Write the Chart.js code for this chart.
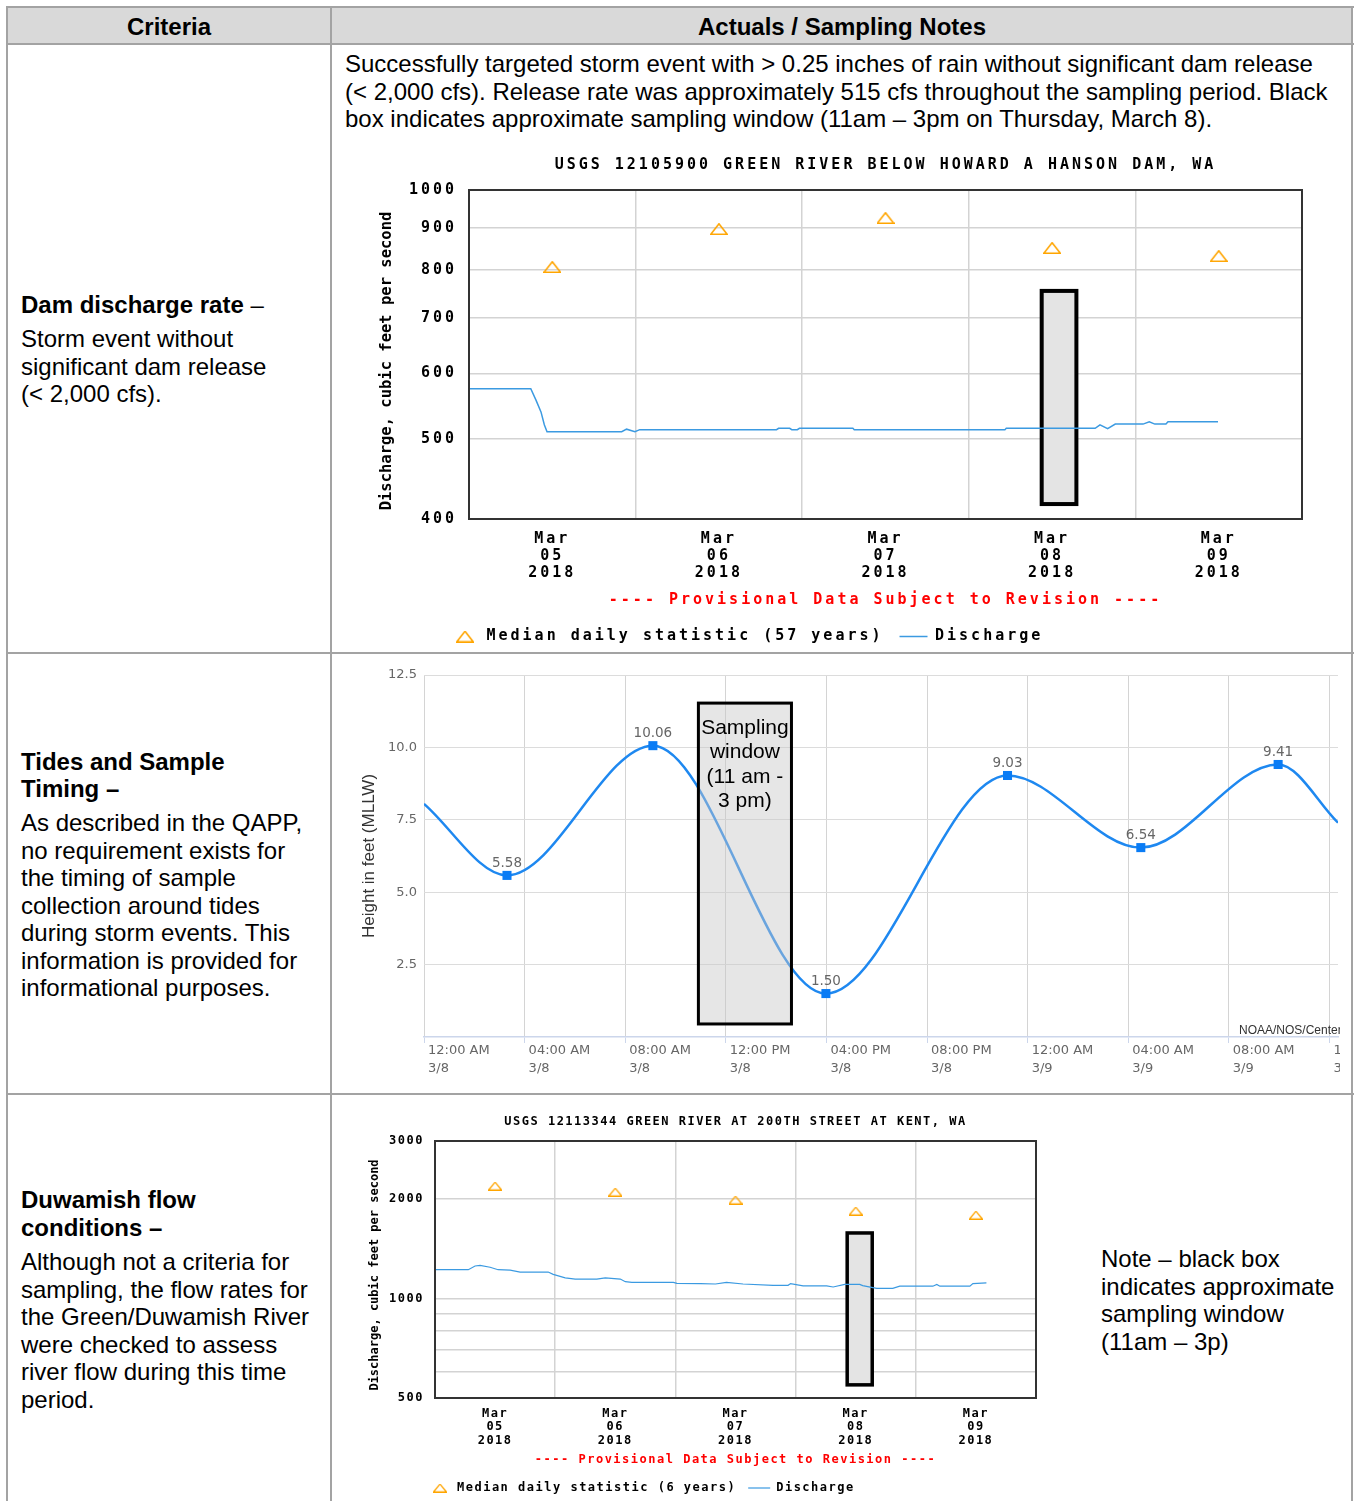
<!DOCTYPE html>
<html>
<head>
<meta charset="utf-8">
<title>Storm event sampling criteria</title>
<script src="https://cdn.jsdelivr.net/npm/chart.js@4.4.1/dist/chart.umd.min.js"></script>
<style>
  html, body { margin: 0; padding: 0; background: #fff; }
  body { position: relative; width: 1355px; height: 1501px; overflow: hidden;
         font-family: "Liberation Sans", Arial, sans-serif; color: #000; }
  .rule { position: absolute; background: #a3a3a3; }
  .head { position: absolute; background: #d9d9d9; left: 7px; top: 7px; width: 1346px; height: 37px; }
  .hd { position: absolute; top: 13px; font-size: 24px; line-height: 28px; font-weight: bold; text-align: center; }
  .txt { position: absolute; font-size: 24px; line-height: 27.5px; white-space: nowrap; }
  canvas { position: absolute; }
</style>
</head>
<body>
<div class="head"></div>
<div class="rule" style="left:6px;top:6px;width:1348px;height:2px"></div>
<div class="rule" style="left:6px;top:43px;width:1348px;height:2px"></div>
<div class="rule" style="left:6px;top:652px;width:1348px;height:2px"></div>
<div class="rule" style="left:6px;top:1093px;width:1348px;height:2px"></div>
<div class="rule" style="left:6px;top:6px;width:2px;height:1495px"></div>
<div class="rule" style="left:330px;top:6px;width:2px;height:1495px"></div>
<div class="rule" style="left:1351px;top:6px;width:2px;height:1495px"></div>

<div class="hd" style="left:7px;width:324px">Criteria</div>
<div class="hd" style="left:331px;width:1022px">Actuals / Sampling Notes</div>

<div class="txt" style="left:21px;top:291px"><b>Dam discharge rate</b> –</div>
<div class="txt" style="left:21px;top:325px">Storm event without<br>significant dam release<br>(&lt; 2,000 cfs).</div>

<div class="txt" style="left:21px;top:748px;line-height:27px"><b>Tides and Sample<br>Timing –</b></div>
<div class="txt" style="left:21px;top:809px">As described in the QAPP,<br>no requirement exists for<br>the timing of sample<br>collection around tides<br>during storm events. This<br>information is provided for<br>informational purposes.</div>

<div class="txt" style="left:21px;top:1186px;line-height:28px"><b>Duwamish flow<br>conditions –</b></div>
<div class="txt" style="left:21px;top:1248px">Although not a criteria for<br>sampling, the flow rates for<br>the Green/Duwamish River<br>were checked to assess<br>river flow during this time<br>period.</div>

<div class="txt" style="left:345px;top:50px">Successfully targeted storm event with &gt; 0.25 inches of rain without significant dam release<br>(&lt; 2,000 cfs). Release rate was approximately 515 cfs throughout the sampling period. Black<br>box indicates approximate sampling window (11am – 3pm on Thursday, March 8).</div>

<div class="txt" style="left:1101px;top:1245px">Note – black box<br>indicates approximate<br>sampling window<br>(11am – 3p)</div>

<canvas id="dam" width="1010" height="510" style="left:340px;top:140px"></canvas>
<canvas id="tide" width="1000" height="432" style="left:340px;top:658px"></canvas>
<canvas id="kent" width="750" height="401" style="left:340px;top:1100px"></canvas>

<script>
// ---------- USGS 12105900 Green River below Howard A. Hanson Dam ----------
// x values are hours after Mar 05 2018 00:00
const damDays = ['05', '06', '07', '08', '09'];
const damDayNoon = [12, 36, 60, 84, 108];
const damMedian = [807, 897, 925, 851, 832];
const damHours = [0, 8.9, 9.65, 10.37, 10.85, 11.24, 22.0, 22.7, 23.9, 24.6,
                  44.3, 44.6, 46.2, 46.5, 47.3, 47.6, 55.3, 55.5, 77.2, 77.4,
                  90.2, 90.9, 92.0, 93.1, 97.1, 98.0, 98.8, 100.4, 100.7, 107.9];
const damFlow = [575, 575, 557, 539, 520, 510, 510, 513.7, 510, 513,
                 513, 515, 515, 513, 513, 515, 515, 513, 513, 515,
                 515, 520, 514.5, 521, 521, 524.5, 521, 521, 524.5, 524.5];
const damYTicks = [400, 500, 600, 700, 800, 900, 1000];
const damWindowHours = [82.5, 87.5];
const damWindowFlow = [417, 755];

// ---------- Tide predictions, hours after Mar 08 2018 00:00 ----------
const tideHours = [0, 3.3, 9.1, 15.98, 23.2, 28.5, 33.96, 36.34];
const tideFeet = [8.05, 5.58, 10.06, 1.50, 9.03, 6.54, 9.41, 7.40];
const tideTickHours = [0, 4, 8, 12, 16, 20, 24, 28, 32, 36];
const tideTickTimes = ['12:00 AM', '04:00 AM', '08:00 AM', '12:00 PM', '04:00 PM',
                       '08:00 PM', '12:00 AM', '04:00 AM', '08:00 AM', '12:00 PM'];
const tideTickDates = ['3/8', '3/8', '3/8', '3/8', '3/8', '3/8', '3/9', '3/9', '3/9', '3/9'];
const tideYTicks = [0, 2.5, 5, 7.5, 10, 12.5];
const tideWindowHours = [10.91, 14.61];
const tideWindowFeet = [0.45, 11.53];
const tideWindowText = ['Sampling', 'window', '(11 am -', '3 pm)'];

// ---------- USGS 12113344 Green River at 200th Street at Kent ----------
const kentDays = ['05', '06', '07', '08', '09'];
const kentDayNoon = [12, 36, 60, 84, 108];
const kentMedian = [2192, 2101, 1988, 1841, 1790];
const kentHours = [0, 6.65, 8, 9, 11, 12.6, 15, 17, 22.6, 23.6,
                   26, 28, 32.3, 34, 37, 38, 39.3, 47.6, 48.3, 53,
                   56, 58.2, 61.5, 67.5, 70.5, 71, 73.5, 78.2, 79.5, 81.8,
                   84.8, 85.4, 86.4, 88.2, 91.4, 92.8, 99.4, 100.2, 100.8, 106.8,
                   107.4, 110.1];
const kentFlow = [1223, 1223, 1255, 1261, 1244, 1223, 1220, 1203, 1203, 1184,
                  1156, 1146, 1146, 1156, 1146, 1125, 1120, 1120, 1112, 1110,
                  1107, 1120, 1107, 1097, 1097, 1110, 1092, 1092, 1084, 1104,
                  1104, 1095, 1087, 1074, 1074, 1090, 1090, 1104, 1090, 1090,
                  1110, 1115];
const kentYTicks = [500, 600, 700, 800, 900, 1000, 2000, 3000];
const kentYLabels = [500, 1000, 2000, 3000];
const kentWindowHours = [82.3, 87.3];
const kentWindowFlow = [548, 1580];

const MONO = "'DejaVu Sans Mono', 'Liberation Mono', monospace";
const SANS = "'Liberation Sans', Arial, sans-serif";
const GRID = '#d3d3d3';
const FLOW_BLUE = '#3b9ae1';
const MEDIAN_ORANGE = '#ffa500';

// Hollow triangle marker used for the daily median points
function triangleMarker(w, h, lw, color) {
  const c = document.createElement('canvas');
  c.width = w; c.height = h;
  const g = c.getContext('2d');
  g.strokeStyle = color; g.lineWidth = lw; g.lineJoin = 'miter';
  g.beginPath();
  g.moveTo(w / 2, lw / 2);
  g.lineTo(w - lw / 2, h - lw / 2);
  g.lineTo(lw / 2, h - lw / 2);
  g.closePath();
  g.stroke();
  return c;
}

function letterSpacing(px) {
  const set = chart => { chart.ctx.letterSpacing = px + 'px'; };
  return { id: 'letterSpacing', beforeUpdate: set, beforeRender: set, beforeDraw: set };
}

// Starts the legend row at a fixed offset from the canvas' left edge
function legendStart(left) {
  return { id: 'legendStart', afterLayout(chart) { if (chart.legend) chart.legend.left = left; } };
}

// Rotated y-axis caption drawn without the chart-wide letter spacing
function sideTitle(text, font, x, dy) {
  return {
    id: 'sideTitle',
    afterDraw(chart) {
      const { ctx, chartArea } = chart;
      ctx.save();
      ctx.letterSpacing = '0px';
      ctx.font = font;
      ctx.fillStyle = '#000';
      ctx.translate(x, (chartArea.top + chartArea.bottom) / 2 + dy);
      ctx.rotate(-Math.PI / 2);
      ctx.textAlign = 'center';
      ctx.textBaseline = 'middle';
      ctx.fillText(text, 0, 0);
      ctx.restore();
    }
  };
}

function plotFrame(color, width) {
  return {
    id: 'plotFrame',
    afterDatasetsDraw(chart) {
      const { ctx, chartArea: a } = chart;
      ctx.save();
      ctx.strokeStyle = color; ctx.lineWidth = width;
      ctx.strokeRect(a.left, a.top, a.right - a.left, a.bottom - a.top);
      ctx.restore();
    }
  };
}

// Sampling window rectangle placed through the chart's own scales
function samplingWindow(hours, values, opt) {
  const hook = opt.above ? 'afterDatasetsDraw' : 'beforeDatasetsDraw';
  return {
    id: 'samplingWindow',
    [hook](chart) {
      const { ctx, scales: { x, y } } = chart;
      const l = x.getPixelForValue(hours[0]), r = x.getPixelForValue(hours[1]);
      const t = y.getPixelForValue(values[1]), b = y.getPixelForValue(values[0]);
      ctx.save();
      ctx.fillStyle = opt.fill;
      ctx.fillRect(l, t, r - l, b - t);
      ctx.lineWidth = opt.border;
      ctx.strokeStyle = '#000';
      ctx.strokeRect(l, t, r - l, b - t);
      if (opt.lines) {
        ctx.letterSpacing = '0px';
        ctx.fillStyle = '#000';
        ctx.font = opt.font;
        ctx.textAlign = 'center';
        ctx.textBaseline = 'middle';
        opt.lines.forEach((s, i) => ctx.fillText(s, (l + r) / 2, t + opt.firstLine + i * opt.lineGap));
      }
      ctx.restore();
    }
  };
}

const damMarker = triangleMarker(18, 12, 1.6, MEDIAN_ORANGE);
const kentMarker = triangleMarker(14, 9, 1.3, MEDIAN_ORANGE);

function usgsFont(size, lh) {
  return { family: MONO, size: size, weight: 'bold', lineHeight: lh / size };
}

function usgsChart(canvasId, cfg) {
  const f = cfg.fontSize;
  const noonTicks = cfg.noon;
  const xTicks = [noonTicks[0] - 12];
  noonTicks.forEach(n => { xTicks.push(n, n + 12); });
  return new Chart(document.getElementById(canvasId), {
    data: {
      datasets: [
        {
          type: 'scatter',
          label: cfg.medianLabel,
          data: noonTicks.map((h, i) => ({ x: h, y: cfg.median[i] })),
          pointStyle: cfg.marker,
          pointRadius: 6
        },
        {
          type: 'line',
          label: 'Discharge',
          data: cfg.hours.map((h, i) => ({ x: h, y: cfg.flow[i] })),
          borderColor: FLOW_BLUE,
          backgroundColor: FLOW_BLUE,
          borderWidth: cfg.lineWidth,
          pointRadius: 0,
          pointStyle: 'line',
          tension: 0
        }
      ]
    },
    options: {
      responsive: false,
      animation: false,
      events: [],
      layout: { autoPadding: false, padding: cfg.padding },
      scales: {
        x: {
          type: 'linear',
          min: xTicks[0],
          max: xTicks[xTicks.length - 1],
          afterBuildTicks: s => { s.ticks = xTicks.map(v => ({ value: v })); },
          afterFit: s => { s.height = cfg.xHeight; s.paddingLeft = 0; s.paddingRight = 0; },
          grid: {
            color: c => noonTicks.includes(c.tick.value) ? 'rgba(0,0,0,0)' : GRID,
            lineWidth: cfg.gridWidth,
            drawTicks: false
          },
          border: { display: false },
          ticks: {
            autoSkip: false,
            maxRotation: 0,
            padding: cfg.xPad,
            color: '#000',
            font: usgsFont(f, cfg.xLine),
            callback: v => {
              const i = noonTicks.indexOf(v);
              return i < 0 ? '' : ['Mar', cfg.days[i], '2018'];
            }
          }
        },
        y: {
          type: 'logarithmic',
          min: cfg.yTicks[0],
          max: cfg.yTicks[cfg.yTicks.length - 1],
          afterBuildTicks: s => { s.ticks = cfg.yTicks.map(v => ({ value: v })); },
          afterFit: s => { s.width = cfg.yWidth; },
          grid: { color: GRID, lineWidth: cfg.gridWidth, drawTicks: false },
          border: { display: false },
          ticks: {
            padding: cfg.yPad,
            color: '#000',
            font: usgsFont(f, f * 1.2),
            callback: v => cfg.yLabels.includes(v) ? String(v) : ''
          }
        }
      },
      plugins: {
        tooltip: { enabled: false },
        title: {
          display: true,
          text: cfg.title,
          color: '#000',
          fullSize: false,
          font: usgsFont(f, cfg.titleLine),
          padding: cfg.titlePad
        },
        subtitle: {
          display: true,
          position: 'bottom',
          text: '---- Provisional Data Subject to Revision ----',
          color: '#ff0000',
          fullSize: false,
          font: usgsFont(f, cfg.xLine),
          padding: cfg.subPad
        },
        legend: {
          position: 'bottom',
          align: 'start',
          weight: 1600,
          fullSize: true,
          labels: {
            usePointStyle: true,
            pointStyleWidth: cfg.keyWidth,
            padding: cfg.keyPad,
            color: '#000',
            font: usgsFont(f, f * 1.2)
          }
        }
      }
    },
    plugins: [
      letterSpacing(cfg.spacing),
      legendStart(cfg.keyLeft),
      samplingWindow(cfg.windowHours, cfg.windowFlow, { fill: '#e4e4e4', border: cfg.boxBorder }),
      plotFrame('#333', 2),
      sideTitle('Discharge, cubic feet per second', cfg.sideFont, cfg.sideX, cfg.sideDy)
    ]
  });
}

usgsChart('dam', {
  title: 'USGS 12105900 GREEN RIVER BELOW HOWARD A HANSON DAM, WA',
  medianLabel: 'Median daily statistic (57 years)',
  days: damDays, noon: damDayNoon, median: damMedian,
  hours: damHours, flow: damFlow,
  yTicks: damYTicks, yLabels: damYTicks,
  windowHours: damWindowHours, windowFlow: damWindowFlow,
  marker: damMarker,
  fontSize: 15, spacing: 3, lineWidth: 1.5, gridWidth: 1.5, boxBorder: 4,
  padding: { left: 0, right: 48, top: 0, bottom: -4 },
  yWidth: 129, yPad: 12,
  xHeight: 63, xPad: 12, xLine: 17,
  titleLine: 18, titlePad: { top: 16, bottom: 16 },
  subPad: { top: 10, bottom: 4 },
  keyWidth: 28, keyPad: 16, keyLeft: 95,
  sideFont: 'bold 15.5px ' + MONO, sideX: 47, sideDy: 6.5
});

usgsChart('kent', {
  title: 'USGS 12113344 GREEN RIVER AT 200TH STREET AT KENT, WA',
  medianLabel: 'Median daily statistic (6 years)',
  days: kentDays, noon: kentDayNoon, median: kentMedian,
  hours: kentHours, flow: kentFlow,
  yTicks: kentYTicks, yLabels: kentYLabels,
  windowHours: kentWindowHours, windowFlow: kentWindowFlow,
  marker: kentMarker,
  fontSize: 12, spacing: 1.5, lineWidth: 1.2, gridWidth: 1.5, boxBorder: 3.5,
  padding: { left: 0, right: 54, top: 0, bottom: -3 },
  yWidth: 95, yPad: 11,
  xHeight: 49.5, xPad: 9, xLine: 13.5,
  titleLine: 14, titlePad: { top: 15, bottom: 12 },
  subPad: { top: 6, bottom: 3 },
  keyWidth: 22, keyPad: 12, keyLeft: 77,
  sideFont: 'bold 12px ' + MONO, sideX: 35, sideDy: 5.5
});

// ---------- Tide chart ----------
const TIDE_BLUE = '#1e88f0';
const tideLabels = {
  id: 'tideLabels',
  afterDatasetsDraw(chart) {
    const { ctx } = chart;
    const pts = chart.getDatasetMeta(1).data;
    const vals = chart.data.datasets[1].data;
    ctx.save();
    ctx.font = '13.5px "DejaVu Sans", sans-serif';
    ctx.fillStyle = '#666';
    ctx.textAlign = 'center';
    ctx.textBaseline = 'middle';
    pts.forEach((p, i) => ctx.fillText(vals[i].y.toFixed(2), p.x, p.y - 12));
    ctx.restore();
  }
};
const tideCredit = {
  id: 'tideCredit',
  afterDraw(chart) {
    const { ctx } = chart;
    ctx.save();
    ctx.font = '12px ' + SANS;
    ctx.fillStyle = '#333';
    ctx.textAlign = 'left';
    ctx.textBaseline = 'middle';
    ctx.fillText('NOAA/NOS/Center for Operational Oceanographic Products and Services', 899, 373);
    ctx.restore();
  }
};

new Chart(document.getElementById('tide'), {
  data: {
    datasets: [
      {
        type: 'line',
        label: 'Predictions',
        data: tideHours.map((h, i) => ({ x: h, y: tideFeet[i] })),
        borderColor: TIDE_BLUE,
        borderWidth: 2.5,
        pointRadius: 0,
        cubicInterpolationMode: 'monotone',
        order: 2
      },
      {
        type: 'scatter',
        label: 'High / Low',
        data: tideHours.slice(1, -1).map((h, i) => ({ x: h, y: tideFeet[i + 1] })),
        pointStyle: 'rect',
        pointRadius: 6.4,
        backgroundColor: '#0a7cf5',
        borderWidth: 0,
        order: 1
      }
    ]
  },
  options: {
    responsive: false,
    animation: false,
    events: [],
    layout: { autoPadding: false, padding: { top: 17, right: 2, left: 0, bottom: 0 } },
    scales: {
      x: {
        type: 'linear',
        min: tideHours[0],
        max: tideHours[tideHours.length - 1],
        afterBuildTicks: s => { s.ticks = tideTickHours.map(v => ({ value: v })); },
        afterFit: s => { s.height = 53; s.paddingLeft = 0; s.paddingRight = 0; },
        grid: { color: '#d4d4d4', lineWidth: 1, tickColor: '#ccd6eb', tickLength: 6 },
        border: { color: '#ccd6eb', width: 1.5 },
        ticks: {
          autoSkip: false,
          maxRotation: 0,
          align: 'start',
          labelOffset: 4,
          padding: -1,
          color: '#666',
          font: { family: '"DejaVu Sans", sans-serif', size: 13, lineHeight: 18 / 13 },
          callback: (v, i) => [tideTickTimes[i], tideTickDates[i]]
        }
      },
      y: {
        min: tideYTicks[0],
        max: tideYTicks[tideYTicks.length - 1],
        afterBuildTicks: s => { s.ticks = tideYTicks.map(v => ({ value: v })); },
        afterFit: s => { s.width = 84; },
        grid: { color: c => c.tick.value === 0 ? 'rgba(0,0,0,0)' : '#dcdcdc', lineWidth: 1, drawTicks: false },
        border: { display: false },
        title: {
          display: true,
          text: 'Height in feet (MLLW)',
          color: '#333',
          font: { family: SANS, size: 17 },
          padding: { top: 19, bottom: 0 }
        },
        ticks: {
          padding: 7,
          color: '#666',
          font: { family: '"DejaVu Sans", sans-serif', size: 13 },
          callback: v => v === 0 ? '' : v.toFixed(1)
        }
      }
    },
    plugins: { legend: { display: false }, tooltip: { enabled: false } }
  },
  plugins: [
    samplingWindow(tideWindowHours, tideWindowFeet, {
      above: true, fill: 'rgba(200,200,200,0.45)', border: 3,
      lines: tideWindowText, font: '21px ' + SANS, firstLine: 25, lineGap: 24.5
    }),
    tideLabels,
    tideCredit
  ]
});
</script>
</body>
</html>
